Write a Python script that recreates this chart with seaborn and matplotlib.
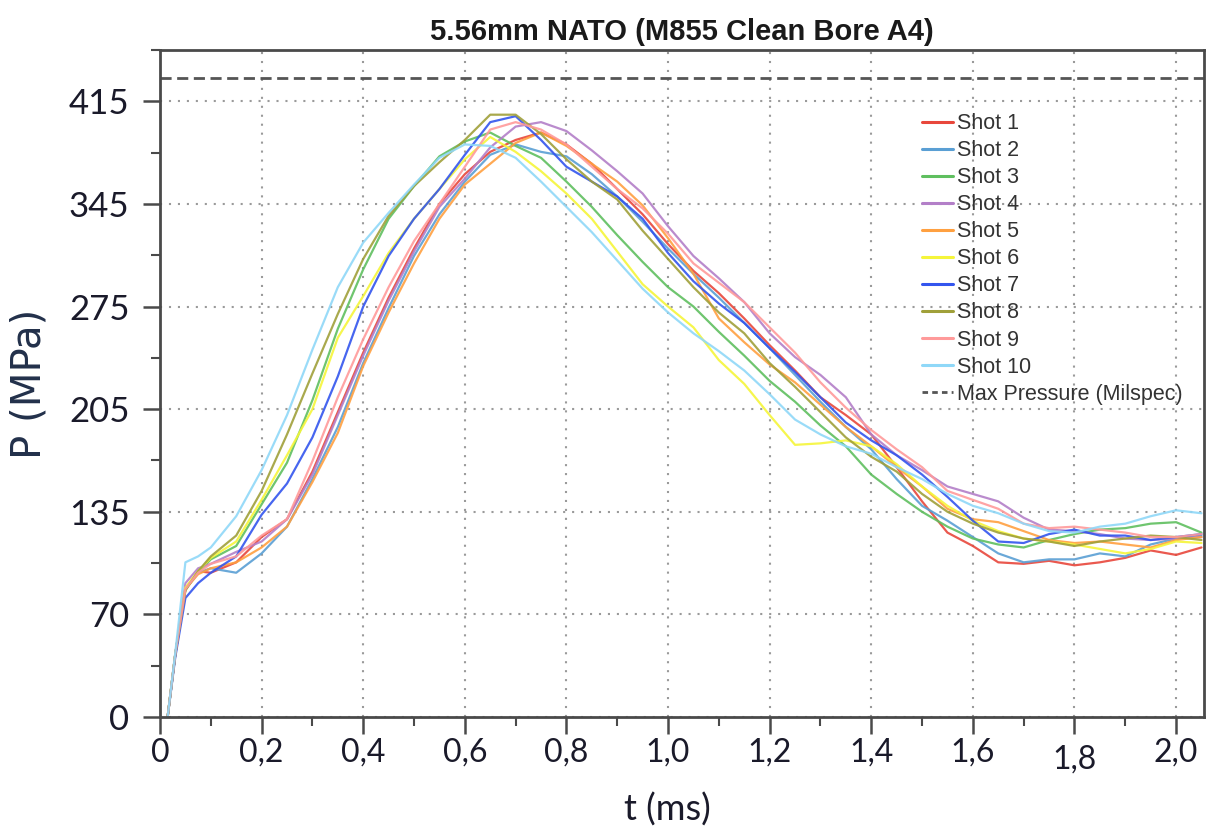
import numpy as np
import pandas as pd
import matplotlib
matplotlib.use("Agg")
import matplotlib.pyplot as plt
import matplotlib.transforms as mtransforms
from matplotlib.lines import Line2D
from matplotlib.ticker import FixedLocator, MultipleLocator
import seaborn as sns

# ---- data ----
t_ms = [0.015, 0.03, 0.05, 0.075, 0.10, 0.15, 0.20, 0.25, 0.30, 0.35, 0.40,
        0.45, 0.50, 0.55, 0.60, 0.65, 0.70, 0.75, 0.80, 0.85, 0.90, 0.95,
        1.00, 1.05, 1.10, 1.15, 1.20, 1.25, 1.30, 1.35, 1.40, 1.45, 1.50,
        1.55, 1.60, 1.65, 1.70, 1.75, 1.80, 1.85, 1.90, 1.95, 2.00, 2.05]

shot_1 = [0, 42, 86, 98, 97, 104, 121, 133, 165, 205, 245, 282, 315, 345, 365,
          380, 388, 393, 385, 372, 355, 338, 318, 300, 285, 268, 250, 233, 215,
          203, 190, 168, 145, 124, 115, 104, 103, 105, 102, 104, 107, 112, 109, 114]
shot_2 = [0, 42, 86, 97, 100, 97, 110, 128, 160, 195, 238, 275, 310, 338, 360,
          378, 385, 380, 377, 365, 350, 333, 315, 298, 282, 265, 248, 230, 212,
          195, 180, 160, 142, 132, 121, 110, 104, 106, 106, 110, 108, 116, 120, 122]
shot_3 = [0, 42, 86, 97, 106, 115, 143, 171, 213, 261, 301, 335, 357, 377, 387,
          393, 384, 376, 360, 343, 324, 306, 289, 276, 259, 243, 226, 212, 196,
          182, 163, 150, 138, 128, 120, 116, 114, 119, 123, 126, 127, 130, 131, 124]
shot_4 = [0, 42, 90, 100, 103, 111, 118, 133, 163, 203, 243, 280, 313, 343, 362,
          383, 397, 400, 394, 381, 367, 352, 330, 310, 295, 279, 258, 242, 230,
          215, 190, 176, 166, 155, 150, 145, 134, 126, 125, 123, 120, 119, 120, 121]
shot_5 = [0, 42, 86, 96, 100, 104, 114, 128, 158, 191, 236, 272, 305, 335, 358,
          372, 386, 393, 384, 372, 360, 344, 322, 298, 268, 252, 237, 225, 210,
          195, 182, 168, 155, 140, 133, 131, 125, 119, 117, 118, 116, 114, 119, 121]
shot_6 = [0, 42, 87, 98, 107, 118, 146, 176, 207, 255, 283, 312, 335, 355, 375,
          390, 380, 367, 352, 335, 313, 291, 276, 262, 240, 224, 203, 183, 184,
          186, 182, 170, 155, 142, 132, 125, 120, 118, 116, 113, 110, 113, 118, 117]
shot_7 = [0, 40, 80, 90, 97, 108, 136, 157, 188, 229, 276, 310, 335, 355, 378,
          400, 404, 388, 370, 360, 350, 335, 312, 293, 278, 265, 248, 232, 215,
          198, 186, 176, 163, 148, 132, 118, 117, 123, 126, 122, 122, 119, 121, 123]
shot_8 = [0, 42, 85, 98, 108, 122, 152, 190, 231, 271, 308, 337, 357, 373, 388,
          405, 405, 392, 375, 360, 348, 327, 308, 289, 272, 258, 238, 222, 205,
          188, 175, 165, 150, 138, 130, 124, 120, 118, 115, 118, 120, 122, 121, 119]
shot_9 = [0, 42, 86, 97, 103, 108, 122, 133, 172, 215, 254, 289, 320, 345, 370,
          395, 400, 395, 385, 370, 355, 342, 325, 305, 292, 279, 262, 245, 225,
          208, 193, 180, 168, 152, 146, 140, 130, 127, 128, 126, 124, 121, 121, 123]
shot_10 = [0, 43, 104, 108, 114, 135, 166, 203, 247, 289, 319, 339, 358, 376, 385,
           384, 376, 360, 343, 326, 307, 288, 272, 258, 246, 233, 217, 200, 190,
           182, 177, 168, 160, 150, 142, 137, 130, 125, 124, 128, 130, 135, 139, 137]

shots = [shot_1, shot_2, shot_3, shot_4, shot_5, shot_6, shot_7, shot_8, shot_9, shot_10]
shot_names = ["Shot %d" % (i + 1) for i in range(10)]
shot_colors = ["#e8473c", "#5a9fd4", "#5fbf5f", "#b37fc8", "#ffa040",
               "#f5f53a", "#3355ee", "#a0a03a", "#ff9a9a", "#8fd8f8"]

max_pressure = 430  # MPa, Milspec limit

y_ticks = [0, 69, 138, 207, 276, 345, 414]
y_tick_labels = ["0", "70", "135", "205", "275", "345", "415"]
x_ticks = [0, 0.2, 0.4, 0.6, 0.8, 1.0, 1.2, 1.4, 1.6, 1.8, 2.0]
x_tick_labels = ["0", "0,2", "0,4", "0,6", "0,8", "1,0", "1,2", "1,4", "1,6", "1,8", "2,0"]

# ---- long format table ----
df = pd.DataFrame({"t": t_ms})
for name, vals in zip(shot_names, shots):
    df[name] = vals
df = df.melt(id_vars="t", var_name="Shot", value_name="P")

# ---- plot ----
sns.set_style("white")
plt.rcParams["font.family"] = ["Liberation Sans", "DejaVu Sans"]

fig = plt.figure(figsize=(12.06, 8.32), dpi=100)
ax = fig.add_axes([160 / 1206, 1 - 717 / 832, (1204 - 160) / 1206, (717 - 50) / 832])

palette = dict(zip(shot_names, shot_colors))
sns.lineplot(data=df, x="t", y="P", hue="Shot", palette=palette,
             linewidth=1.6, alpha=0.9, legend=False, ax=ax)
ax.axhline(max_pressure, color="#555555", lw=2, ls=(0, (4, 2)))

ax.set_xlim(0, 2.055)
ax.set_ylim(0, 448.5)

ax.yaxis.set_major_locator(FixedLocator(y_ticks))
ax.set_yticklabels(y_tick_labels)
ax.yaxis.set_minor_locator(MultipleLocator(34.5))
ax.xaxis.set_major_locator(FixedLocator(x_ticks))
ax.set_xticklabels(x_tick_labels)
ax.xaxis.set_minor_locator(MultipleLocator(0.1))

ax.grid(True, which="major", color="#9a9a9a", ls=(0, (1, 3.3)), lw=1.5)
for s in ax.spines.values():
    s.set_color("#4a4a4a")
    s.set_linewidth(2)

ax.tick_params(which="major", direction="out", length=12, width=1.8, color="#4a4a4a")
ax.tick_params(which="minor", direction="out", length=6.5, width=1.5, color="#4a4a4a")
ax.tick_params(axis="x", which="both", bottom=True)
ax.tick_params(axis="y", which="both", left=True)
ax.tick_params(axis="y", which="major", pad=10, labelsize=25, labelcolor="#1a1a2a")
ax.tick_params(axis="x", which="major", pad=3, labelsize=23, labelcolor="#1a1a2a")
for lbl in ax.get_xticklabels() + ax.get_yticklabels():
    lbl.set_family(["Lato", "DejaVu Sans"])

# the "1,8" label sits a bit lower in the reference
shift = mtransforms.ScaledTranslation(0, -5 / 72, fig.dpi_scale_trans)
for lbl in ax.get_xticklabels():
    if lbl.get_text() == "1,8":
        lbl.set_transform(lbl.get_transform() + shift)

ax.set_xlabel("t (ms)", fontsize=26, family=["Lato", "DejaVu Sans"], color="#1a1a2a")
ax.set_ylabel("P (MPa)", fontsize=29, family="DejaVu Sans", color="#22304a")
ax.xaxis.set_label_coords(0.486, -0.114)
ax.yaxis.set_label_coords(-0.106, 0.5)

ax.set_title("5.56mm NATO (M855 Clean Bore A4)", fontsize=21, fontweight="bold",
             color="#1a1a1a", pad=7)

handles = [Line2D([], [], color=c, lw=2.2) for c in shot_colors]
handles.append(Line2D([], [], color="#555555", lw=2, ls=(0, (2, 1.5))))
labels = shot_names + ["Max Pressure (Milspec)"]
ax.legend(handles, labels, loc="upper left", bbox_to_anchor=(0.722, 0.918),
          frameon=False, fontsize=15.5, labelspacing=0.28, handlelength=1.4,
          handletextpad=0.2, borderaxespad=0, labelcolor="#333333")

fig.savefig("out.png", dpi=100)
